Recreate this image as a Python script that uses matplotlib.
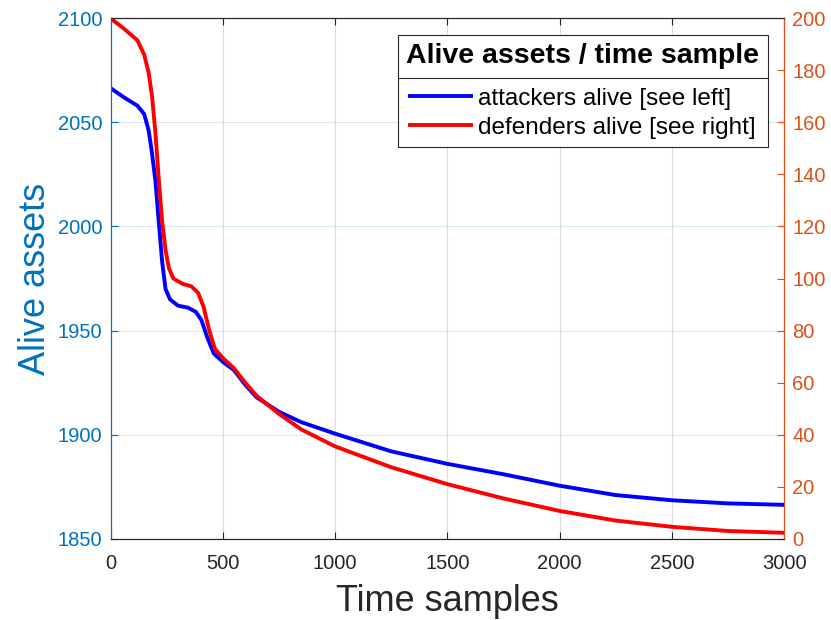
import matplotlib
matplotlib.use("Agg")
import matplotlib.pyplot as plt
from matplotlib.lines import Line2D

plt.rcParams["font.family"] = ["Liberation Sans", "DejaVu Sans"]

# ---------------------------------------------------------------------------
# Data
# ---------------------------------------------------------------------------
att_t = [0, 60, 120, 150, 170, 185, 200, 215, 230, 245, 265, 300, 345, 380,
         405, 430, 460, 500, 550, 600, 650, 750, 850, 1000, 1250, 1500, 1750,
         2000, 2250, 2500, 2750, 3000]
att_alive = [2066.5, 2062, 2058, 2054, 2046, 2035, 2022, 2002, 1983, 1970,
             1965, 1962, 1961, 1959, 1955, 1947, 1939, 1935, 1931, 1924, 1918,
             1911, 1906, 1900.5, 1892, 1886, 1881, 1875.5, 1871, 1868.5,
             1867, 1866.3]

def_t = [0, 60, 120, 150, 170, 185, 200, 215, 230, 245, 260, 280, 320, 360,
         390, 415, 440, 465, 500, 550, 600, 650, 750, 850, 1000, 1250, 1500,
         1750, 2000, 2250, 2500, 2750, 3000]
def_alive = [200, 196, 191.5, 186, 179, 170, 156, 138, 122, 111, 104, 100,
             98, 97, 94.5, 89, 80, 73, 69.5, 65.5, 60, 55, 48, 42, 35.5, 27.5,
             21, 15.5, 10.7, 7, 4.6, 3, 2.3]

x_ticks = [0, 500, 1000, 1500, 2000, 2500, 3000]
left_ticks = [1850, 1900, 1950, 2000, 2050, 2100]
right_ticks = list(range(0, 201, 20))

LEFT_C = "#0072BD"
RIGHT_C = "#D95319"
AX_C = "#262626"

fig = plt.figure(figsize=(8.31, 6.2), dpi=100)
ax = fig.add_axes([0.133, 0.131, 0.8105, 0.8395])
ax2 = ax.twinx()

l1, = ax.plot(att_t, att_alive, color="b", lw=2.8, solid_joinstyle="round")
l2, = ax2.plot(def_t, def_alive, color="r", lw=2.8, solid_joinstyle="round")

ax.set_xlim(0, 3000)
ax.set_ylim(1850, 2100)
ax2.set_ylim(0, 200)
ax.set_xticks(x_ticks)
ax.set_yticks(left_ticks)
ax2.set_yticks(right_ticks)

ax.grid(True, axis="x", color=AX_C, alpha=0.15, lw=0.8)
ax.grid(True, axis="y", color=LEFT_C, alpha=0.15, lw=0.8)

ax.tick_params(axis="x", direction="in", top=True, colors=AX_C,
               labelsize=14.5, length=5, pad=11)
ax.tick_params(axis="y", direction="in", colors=LEFT_C, labelsize=14.5,
               length=5, pad=6)
ax2.tick_params(axis="y", direction="in", colors=RIGHT_C, labelsize=14.5,
                length=5, pad=6)

for s in ("top", "bottom"):
    ax.spines[s].set_color(AX_C)
    ax2.spines[s].set_color(AX_C)
ax2.spines["left"].set_color(LEFT_C)
ax2.spines["right"].set_color(RIGHT_C)
ax.spines["left"].set_color(LEFT_C)

ax.set_xlabel("Time samples", fontsize=26, color=AX_C, labelpad=8)
ax.set_ylabel("Alive assets", fontsize=26, color=LEFT_C, labelpad=3)

leg = ax2.legend([l1, l2], ["attackers alive [see left]",
                            "defenders alive [see right]"],
                 title="Alive assets / time sample", loc="upper right",
                 bbox_to_anchor=(0.976, 0.968), fontsize=17.5,
                 title_fontproperties={"weight": "bold", "size": 20.5},
                 fancybox=False, edgecolor=AX_C, framealpha=1,
                 handlelength=2.5, handletextpad=0.3, borderpad=0.35,
                 labelspacing=0.3, borderaxespad=0)
leg.get_frame().set_linewidth(0.8)
TITLE_GAP = 13  # points between title row and entries
leg._legend_box.sep = TITLE_GAP

# separator line under the legend title (MATLAB style)
fig.canvas.draw()
r = fig.canvas.get_renderer()
fb = leg.get_frame().get_window_extent(r)
tb = leg.get_title().get_window_extent(r)
ysep = tb.y0 - TITLE_GAP * fig.dpi / 72 / 2
fig.add_artist(Line2D([fb.x0, fb.x1], [ysep, ysep], transform=None,
                      color=AX_C, lw=0.8))

fig.savefig("out.png", dpi=100)
